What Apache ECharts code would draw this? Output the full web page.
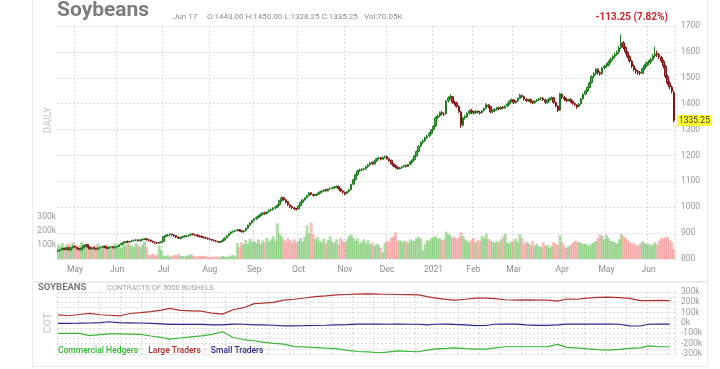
<!DOCTYPE html>
<html><head><meta charset="utf-8">
<script src="https://cdn.jsdelivr.net/npm/echarts@6/dist/echarts.min.js"></script>
<style>html,body{margin:0;padding:0;background:#fff;}#c{width:720px;height:369px;}</style>
</head><body><div id="c"></div>
<script>
// ---------- DATA ----------
const holidays = ['2020-05-25','2020-07-03','2020-09-07','2020-11-26','2020-12-25','2021-01-01','2021-01-18','2021-02-15','2021-04-02','2021-05-31'];
const monthNames = ['Jan','Feb','Mar','Apr','May','Jun','Jul','Aug','Sep','Oct','Nov','Dec'];
// trading days Apr 21 2020 .. Jun 17 2021
const dates = [];
for (let t = Date.UTC(2020,3,21); t <= Date.UTC(2021,5,17); t += 86400000) {
  const d = new Date(t), wd = d.getUTCDay(), s = d.toISOString().slice(0,10);
  if (wd === 0 || wd === 6 || holidays.includes(s)) continue;
  dates.push(s);
}
// [open, close, low, high]
const ohlc = [
// Apr 2020
[830,832,826,836],[833,836,829,839],[836,840,833,843],[841,838,834,844],[837,842,835,845],[843,836,833,846],[835,843,833,846],[844,848,840,852],
// May
[849,846,842,852],[845,840,837,848],[841,836,832,843],[835,842,833,845],[843,850,841,853],[851,854,848,858],[855,847,844,857],[846,840,836,849],[839,843,836,846],[844,840,837,847],[841,838,834,843],[837,842,835,845],[843,845,840,848],[846,848,843,851],[849,846,842,851],[845,842,838,848],[841,845,839,848],[846,847,842,850],[848,844,841,850],[843,846,840,849],
// Jun
[847,848,843,851],[849,855,847,858],[856,860,852,863],[861,864,857,867],[865,867,861,870],[868,866,862,871],[865,868,862,871],[869,870,865,874],[871,872,867,875],[873,873,869,877],[874,871,867,876],[870,874,868,877],[875,876,871,879],[877,877,873,880],[878,875,871,880],[874,872,868,877],[873,869,865,875],[868,866,862,871],[865,863,859,868],[864,862,858,866],[861,864,859,867],[865,866,862,870],
// Jul
[868,886,866,889],[887,890,883,894],[891,893,887,897],[894,895,890,899],[896,893,889,898],[892,890,885,895],[891,885,881,893],[884,881,877,887],[880,883,876,886],[884,886,880,890],[887,888,883,892],[888,889,884,893],[890,893,886,896],[894,897,890,900],[898,895,891,900],[894,892,888,897],[893,889,885,895],[888,887,883,891],[888,885,881,890],[884,883,879,887],[882,881,877,885],[880,878,874,883],
// Aug
[877,876,872,880],[875,873,869,878],[872,871,867,875],[870,868,864,873],[867,866,862,870],[865,867,862,870],[868,872,865,875],[873,881,871,884],[882,889,879,892],[890,898,887,901],[899,904,895,907],[905,906,901,910],[907,909,903,913],[910,912,906,916],[913,910,905,915],[909,906,902,912],[905,908,902,911],[909,918,907,921],[919,930,916,933],[931,939,927,942],[940,948,936,951],
// Sep
[949,955,945,958],[956,960,951,964],[961,966,957,970],[967,972,963,976],[973,978,969,982],[979,975,971,983],[976,982,972,985],[983,988,979,992],[989,990,984,995],[991,996,987,1000],[997,1000,992,1004],[1001,1008,998,1012],[1010,1025,1006,1029],[1026,1036,1021,1042],[1037,1030,1025,1040],[1029,1020,1015,1032],[1021,1010,1005,1024],[1009,1002,997,1012],[1003,998,993,1006],[997,994,988,1001],[995,993,988,998],
// Oct
[994,1005,991,1008],[1006,1018,1003,1021],[1019,1028,1015,1031],[1029,1036,1025,1039],[1037,1044,1033,1048],[1045,1055,1042,1059],[1056,1050,1046,1058],[1049,1046,1041,1052],[1045,1048,1042,1051],[1049,1052,1045,1056],[1053,1058,1049,1061],[1059,1062,1055,1066],[1063,1067,1059,1070],[1068,1064,1060,1071],[1063,1070,1061,1073],[1071,1072,1067,1076],[1073,1075,1069,1079],[1076,1078,1072,1082],[1079,1080,1074,1084],[1081,1072,1068,1083],[1071,1063,1058,1074],[1062,1058,1052,1066],
// Nov
[1057,1052,1046,1060],[1053,1060,1050,1063],[1061,1067,1057,1071],[1068,1088,1065,1091],[1089,1106,1085,1110],[1107,1125,1103,1129],[1126,1140,1121,1144],[1141,1144,1136,1149],[1145,1146,1140,1151],[1147,1148,1142,1152],[1149,1156,1145,1160],[1157,1163,1152,1167],[1164,1171,1160,1175],[1172,1168,1163,1176],[1167,1178,1165,1181],[1179,1187,1175,1191],[1188,1190,1184,1195],[1191,1186,1181,1194],[1185,1192,1182,1196],[1193,1195,1188,1200],
// Dec
[1196,1188,1183,1199],[1187,1180,1175,1191],[1181,1168,1164,1184],[1167,1160,1155,1171],[1161,1155,1150,1164],[1154,1150,1144,1158],[1149,1152,1146,1156],[1153,1156,1149,1160],[1157,1160,1153,1164],[1161,1158,1153,1165],[1157,1165,1155,1168],[1166,1175,1162,1179],[1176,1183,1172,1187],[1184,1198,1181,1202],[1199,1215,1195,1219],[1216,1235,1212,1239],[1236,1250,1231,1255],[1251,1256,1245,1262],[1257,1268,1252,1272],[1269,1275,1263,1280],[1276,1285,1270,1290],[1286,1298,1281,1302],
// Jan 2021
[1300,1312,1296,1318],[1314,1345,1310,1350],[1346,1352,1340,1358],[1353,1365,1348,1370],[1366,1362,1355,1372],[1361,1360,1352,1366],[1362,1410,1358,1414],[1411,1422,1405,1428],[1423,1428,1416,1436],[1427,1405,1400,1430],[1404,1402,1394,1412],[1403,1390,1384,1408],[1389,1370,1364,1394],[1368,1318,1307,1372],[1316,1345,1312,1350],[1346,1350,1338,1356],[1349,1362,1344,1367],[1363,1372,1358,1378],[1373,1368,1360,1380],
// Feb
[1367,1365,1358,1372],[1364,1370,1360,1375],[1371,1368,1362,1374],[1367,1364,1358,1372],[1365,1372,1362,1376],[1373,1380,1369,1385],[1381,1396,1378,1402],[1395,1390,1382,1398],[1389,1368,1362,1392],[1369,1372,1364,1377],[1373,1378,1368,1382],[1377,1384,1373,1388],[1385,1380,1375,1389],[1379,1386,1376,1390],[1387,1384,1379,1391],[1383,1390,1380,1394],[1391,1398,1387,1403],[1399,1410,1395,1415],[1411,1415,1405,1420],
// Mar
[1414,1405,1398,1418],[1404,1410,1400,1414],[1411,1420,1406,1425],[1421,1432,1417,1438],[1431,1428,1422,1436],[1427,1418,1412,1431],[1417,1412,1406,1421],[1411,1415,1407,1419],[1416,1408,1403,1420],[1407,1404,1398,1412],[1403,1410,1400,1414],[1411,1414,1406,1418],[1415,1418,1410,1423],[1419,1420,1413,1426],[1421,1416,1410,1425],[1415,1405,1399,1419],[1404,1412,1400,1416],[1413,1420,1408,1424],[1421,1422,1415,1428],[1423,1405,1400,1426],[1404,1392,1386,1408],[1391,1374,1368,1394],[1375,1438,1372,1442],
// Apr
[1436,1425,1418,1440],[1424,1418,1410,1430],[1417,1412,1405,1422],[1413,1416,1408,1420],[1417,1410,1404,1421],[1409,1402,1396,1413],[1401,1396,1390,1405],[1395,1388,1380,1398],[1389,1398,1386,1402],[1399,1418,1396,1422],[1419,1436,1415,1440],[1437,1448,1432,1452],[1449,1462,1444,1467],[1463,1480,1459,1485],[1481,1505,1478,1510],[1506,1515,1500,1522],[1516,1532,1511,1538],[1533,1520,1512,1537],[1519,1515,1508,1525],[1516,1538,1512,1542],[1539,1545,1532,1550],
// May
[1546,1548,1538,1556],[1549,1560,1544,1566],[1561,1572,1555,1578],[1573,1582,1566,1588],[1583,1590,1576,1598],[1591,1598,1585,1606],[1599,1615,1592,1622],[1616,1636,1610,1667],[1635,1618,1610,1642],[1617,1600,1592,1622],[1599,1582,1575,1604],[1581,1565,1558,1586],[1564,1545,1538,1570],[1546,1532,1525,1552],[1531,1525,1516,1538],[1524,1520,1512,1530],[1521,1518,1510,1526],[1517,1535,1514,1540],[1536,1548,1530,1552],[1547,1558,1542,1563],
// Jun
[1559,1560,1548,1568],[1561,1570,1552,1578],[1571,1585,1565,1592],[1586,1592,1578,1620],[1593,1590,1580,1605],[1589,1580,1572,1596],[1579,1565,1558,1585],[1564,1545,1536,1570],[1544,1505,1498,1550],[1504,1480,1472,1512],[1479,1465,1455,1488],[1464,1448.5,1440,1470],[1443,1335.25,1328.25,1450]
];
// daily volume, thousands of contracts
const volume = [
105,92,115,88,100,110,95,118,
102,85,96,120,108,90,112,85,75,100,95,110,88,82,98,105,92,76,90,112,
100,95,80,108,96,118,104,92,88,112,98,84,106,125,88,32,28,38,26,30,95,60,
24,20,28,18,22,30,26,35,24,20,18,22,28,32,25,20,16,22,18,24,20,15,
14,18,12,20,16,14,22,18,15,20,24,28,18,115,85,120,105,135,110,145,122,
128,115,140,108,132,118,150,125,140,165,130,255,180,160,140,125,150,135,118,142,120,
130,150,125,160,240,180,260,175,140,155,130,120,145,110,135,160,125,115,140,105,150,130,
120,140,165,175,150,130,145,110,125,140,115,135,105,120,95,110,100,80,45,115,
130,125,155,160,190,128,135,120,130,125,118,140,132,128,150,160,145,60,110,135,130,150,
155,165,145,150,135,140,195,180,170,150,160,145,155,190,165,140,130,120,135,
150,120,135,125,165,150,180,145,130,125,115,130,120,140,160,180,120,110,125,
130,145,120,180,150,110,125,115,100,130,95,110,90,85,120,95,100,80,95,120,110,100,170,
120,95,80,90,100,115,130,125,120,115,105,110,100,95,110,120,130,150,175,165,140,
170,150,130,125,120,110,140,180,165,150,135,120,110,115,100,95,110,125,115,105,
110,95,105,120,100,130,150,145,155,160,135,120,70
];
// weekly COT net positions, thousands of contracts
const cotDates = ['2020-04-21','2020-04-28','2020-05-05','2020-05-12','2020-05-19','2020-05-26','2020-06-02','2020-06-09','2020-06-16','2020-06-23','2020-06-30','2020-07-07','2020-07-14','2020-07-21','2020-07-28','2020-08-04','2020-08-11','2020-08-18','2020-08-25','2020-09-01','2020-09-08','2020-09-15','2020-09-22','2020-09-29','2020-10-06','2020-10-13','2020-10-20','2020-10-27','2020-11-03','2020-11-10','2020-11-17','2020-11-24','2020-12-01','2020-12-08','2020-12-15','2020-12-22','2020-12-29','2021-01-05','2021-01-12','2021-01-19','2021-01-26','2021-02-02','2021-02-09','2021-02-16','2021-02-23','2021-03-02','2021-03-09','2021-03-16','2021-03-23','2021-03-30','2021-04-06','2021-04-13','2021-04-20','2021-04-27','2021-05-04','2021-05-11','2021-05-18','2021-05-25','2021-06-01','2021-06-08','2021-06-15'];
const cotLarge = [78,70,82,94,80,75,68,92,100,110,124,142,122,118,114,96,86,128,148,188,192,200,222,230,242,256,262,272,276,280,282,279,278,276,274,272,255,240,228,222,230,240,240,236,225,222,223,222,222,212,232,230,240,248,250,245,238,217,217,218,217];
const cotSmall = [-3,-3,-2,0,3,12,3,2,0,-3,-8,-13,-12,-13,-13,-18,-19,-10,-12,-18,-19,-22,-28,-27,-26,-24,-22,-19,-16,-10,-10,-10,-12,-10,-12,-12,-18,-12,-10,-14,-18,-26,-24,-12,-10,-10,-18,-23,-23,-18,-10,-10,-10,-10,-10,-12,-27,-29,-12,-10,-10];
const cotCommercial = [-100,-100,-100,-122,-112,-106,-105,-107,-110,-126,-140,-156,-145,-134,-125,-110,-85,-140,-160,-172,-185,-197,-205,-228,-232,-238,-244,-248,-265,-276,-280,-288,-282,-270,-275,-278,-262,-250,-246,-240,-248,-252,-252,-240,-230,-230,-230,-230,-228,-207,-236,-240,-250,-258,-262,-255,-246,-240,-222,-230,-230];
const priceTicks = {min: 800, max: 1700, step: 100};
const headerText = {name: 'Soybeans', date: 'Jun 17', ohlc: 'O:1443.00 H:1450.00 L:1328.25 C:1335.25', vol: 'Vol:70.05K', change: '-113.25 (7.82%)'};

// ---------- CHART ----------
const F = 'Roboto, sans-serif';
const isMonthStart = i => i > 0 && dates[i].slice(5,7) !== dates[i-1].slice(5,7);
const monthLabel = v => { const m = +v.slice(5,7); return m === 1 ? v.slice(0,4) : monthNames[m-1]; };
const grid = {left: 57, right: 45};
const dash = {color: '#dcdcdc', type: [2,2], width: 1};

const chart = echarts.init(document.getElementById('c'), null, {renderer: 'canvas'});
const option = {
  animation: false,
  backgroundColor: '#fff',
  textStyle: {fontFamily: F},
  grid: [
    Object.assign({top: 26, height: 233}, grid),
    Object.assign({top: 217, height: 42}, grid),
    Object.assign({top: 292, height: 62}, grid)
  ],
  xAxis: [
    {type: 'category', gridIndex: 0, data: dates, boundaryGap: true,
     axisLine: {show: false}, axisTick: {show: false},
     axisLabel: {interval: i => isMonthStart(i), formatter: monthLabel, color: '#8a8a8a', fontSize: 8.5, margin: 6, fontFamily: F},
     splitLine: {show: true, interval: i => isMonthStart(i), lineStyle: dash}},
    {type: 'category', gridIndex: 1, data: dates, boundaryGap: true, show: false},
    {type: 'category', gridIndex: 2, data: dates, boundaryGap: true,
     axisLine: {show: false}, axisTick: {show: false}, axisLabel: {show: false},
     splitLine: {show: true, interval: i => i % 10 === 0, lineStyle: dash}}
  ],
  yAxis: [
    {type: 'value', gridIndex: 0, position: 'right', min: priceTicks.min, max: priceTicks.max, interval: priceTicks.step,
     axisLine: {show: false}, axisTick: {show: false},
     axisLabel: {color: '#999', fontSize: 8.5, margin: 6, fontFamily: F, formatter: v => String(v)},
     splitLine: {show: true, lineStyle: dash}},
    {type: 'value', gridIndex: 1, position: 'left', min: 0, max: 300, interval: 100,
     axisLine: {show: false}, axisTick: {show: false},
     axisLabel: {color: '#999', fontSize: 8.5, margin: 1, fontFamily: F, formatter: v => v ? v + 'k' : ''},
     splitLine: {show: false}},
    {type: 'value', gridIndex: 2, position: 'right', min: -300, max: 300, interval: 50,
     axisLine: {show: false}, axisTick: {show: false},
     axisLabel: {color: '#999', fontSize: 8.5, margin: 6, fontFamily: F, formatter: v => v % 100 === 0 ? v + 'k' : ''},
     splitLine: {show: true, lineStyle: dash}}
  ],
  legend: {
    left: 52, top: 346, itemWidth: 0, itemHeight: 0, itemGap: 4, selectedMode: false, padding: 0,
    data: [
      {name: 'Commercial Hedgers', textStyle: {color: '#2fb52f'}},
      {name: 'Large Traders', textStyle: {color: '#b02c2c'}},
      {name: 'Small Traders', textStyle: {color: '#27278f'}}
    ],
    textStyle: {fontSize: 8.5, fontFamily: F, fontWeight: 500}
  },
  series: [
    {name: 'Volume', type: 'bar', xAxisIndex: 1, yAxisIndex: 1, barWidth: 3, z: 1,
     data: volume.map((v, i) => ({value: v, itemStyle: {color: ohlc[i][1] >= ohlc[i][0] ? 'rgba(110,195,95,0.55)' : 'rgba(240,130,130,0.5)'}}))},
    {name: 'Price', type: 'candlestick', xAxisIndex: 0, yAxisIndex: 0, barWidth: 2, z: 3,
     data: ohlc,
     itemStyle: {color: '#3cb043', borderColor: '#1f7a1f', color0: '#d03a3a', borderColor0: '#7c1414', borderWidth: 1}},
    {name: 'Large Traders', type: 'line', xAxisIndex: 2, yAxisIndex: 2, showSymbol: false,
     data: cotDates.map((d, i) => [d, cotLarge[i]]), lineStyle: {color: '#b03030', width: 1.2}, itemStyle: {color: '#b03030'}},
    {name: 'Small Traders', type: 'line', xAxisIndex: 2, yAxisIndex: 2, showSymbol: false,
     data: cotDates.map((d, i) => [d, cotSmall[i]]), lineStyle: {color: '#2a2a90', width: 1.2}, itemStyle: {color: '#2a2a90'}},
    {name: 'Commercial Hedgers', type: 'line', xAxisIndex: 2, yAxisIndex: 2, showSymbol: false,
     data: cotDates.map((d, i) => [d, cotCommercial[i]]), lineStyle: {color: '#35b535', width: 1.2}, itemStyle: {color: '#35b535'}}
  ],
  graphic: [
    {type: 'rect', z: -10, shape: {x: 32.5, y: -2, width: 675, height: 283.5}, style: {fill: 'none', stroke: '#ececec', lineWidth: 1}},
    {type: 'rect', z: -10, shape: {x: 32.5, y: 282.5, width: 675, height: 84}, style: {fill: 'none', stroke: '#ececec', lineWidth: 1}},
    {type: 'text', x: 57, y: 0, style: {text: headerText.name, font: 'bold 21px Roboto', fill: '#7d7d7d', textVerticalAlign: 'top'}},
    {type: 'text', x: 173, y: 17, style: {text: headerText.date, font: '8px Roboto', fill: '#8a8a8a', textVerticalAlign: 'middle'}},
    {type: 'text', x: 207, y: 17, style: {text: headerText.ohlc, font: '8px Roboto', fill: '#8a8a8a', textVerticalAlign: 'middle'}},
    {type: 'text', x: 364, y: 17, style: {text: headerText.vol, font: '8px Roboto', fill: '#8a8a8a', textVerticalAlign: 'middle'}},
    {type: 'text', x: 668, y: 17, style: {text: headerText.change, font: 'bold 10px Roboto', fill: '#c0282d', textAlign: 'right', textVerticalAlign: 'middle'}},
    {type: 'text', x: 48, y: 120, rotation: Math.PI / 2, style: {text: 'DAILY', font: 'bold 10px Roboto', fill: '#d4d4d4', textAlign: 'center', textVerticalAlign: 'middle'}},
    {type: 'text', x: 38, y: 288, style: {text: 'SOYBEANS', font: 'bold 9.5px Roboto', fill: '#7a7a7a', textVerticalAlign: 'middle'}},
    {type: 'text', x: 107, y: 288, style: {text: 'CONTRACTS OF 5000 BUSHELS', font: '7.5px Roboto', fill: '#a0a0a0', textVerticalAlign: 'middle'}},
    {type: 'text', x: 48, y: 323, rotation: Math.PI / 2, style: {text: 'COT', font: 'bold 11px Roboto', fill: '#d4d4d4', textAlign: 'center', textVerticalAlign: 'middle'}}
  ]
};
chart.setOption(option);
// yellow last-price tag, placed through the price axis
const last = ohlc[ohlc.length - 1];
const py = chart.convertToPixel({yAxisIndex: 0}, last[1]);
chart.setOption({graphic: option.graphic.concat([
  {type: 'text', x: 677, y: py, z: 20, style: {text: last[1].toFixed(2), font: '8.5px Roboto', fill: '#333', backgroundColor: '#ffff30', padding: [1, 2], textVerticalAlign: 'middle'}}
])});
</script></body></html>
